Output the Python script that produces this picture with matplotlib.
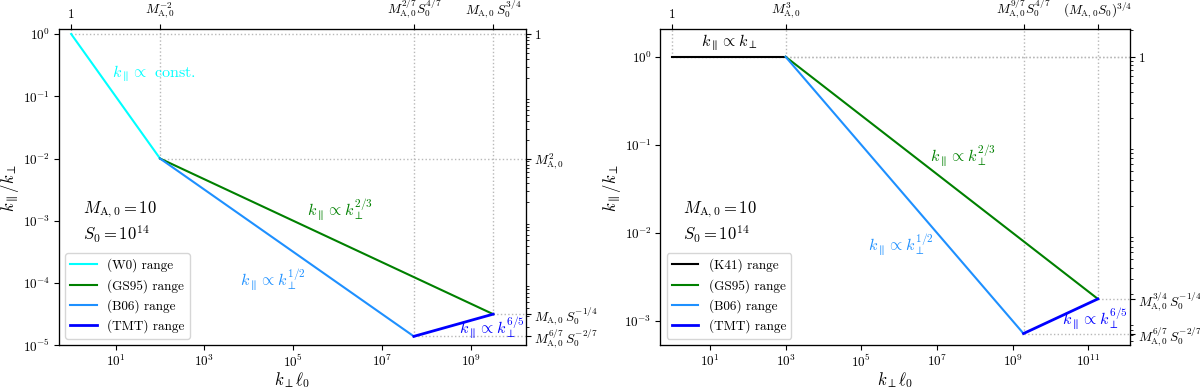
import matplotlib
matplotlib.use('Agg')
import matplotlib.pyplot as plt

plt.rcParams['mathtext.fontset'] = 'cm'
plt.rcParams['font.family'] = 'serif'
plt.rcParams['font.serif'] = ['cmr10']
plt.rcParams['axes.formatter.use_mathtext'] = True
plt.rcParams['axes.unicode_minus'] = False
plt.rcParams['xtick.major.pad'] = 2.5
plt.rcParams['ytick.major.pad'] = 2.5

# ---- left panel: M_A0 = 10, S0 = 1e14 (weak turbulence start) ----
left_w0_x = [1.0, 1.0e2]
left_w0_y = [1.0, 1.0e-2]
left_gs_x = [1.0e2, 3.16e9]
left_gs_y = [1.0e-2, 3.16e-5]
left_b06_x = [1.0e2, 5.18e7]
left_b06_y = [1.0e-2, 1.39e-5]
left_tmt_x = [5.18e7, 3.16e9]
left_tmt_y = [1.39e-5, 3.16e-5]
left_top_ticks = [1.0, 1.0e2, 5.18e7, 3.16e9]
left_top_labels = [r'$1$', r'$M_{\rm A,0}^{-2}$', r'$M_{\rm A,0}^{2/7}S_0^{4/7}$',
                   r'$M_{\rm A,0}\,S_0^{3/4}$']
left_right_ticks = [1.0, 1.0e-2, 3.16e-5, 1.39e-5]
left_right_labels = [r'$1$', r'$M_{\rm A,0}^{2}$', r'$M_{\rm A,0}\,S_0^{-1/4}$',
                     r'$M_{\rm A,0}^{6/7}\,S_0^{-2/7}$']
left_corners = [(1.0, 1.0), (1.0e2, 1.0e-2), (5.18e7, 1.39e-5), (3.16e9, 3.16e-5)]

# ---- right panel: strong turbulence start ----
right_k41_x = [1.0, 1.0e3]
right_k41_y = [1.0, 1.0]
right_gs_x = [1.0e3, 1.78e11]
right_gs_y = [1.0, 1.78e-3]
right_b06_x = [1.0e3, 1.93e9]
right_b06_y = [1.0, 7.20e-4]
right_tmt_x = [1.93e9, 1.78e11]
right_tmt_y = [7.20e-4, 1.78e-3]
right_top_ticks = [1.0, 1.0e3, 1.93e9, 1.78e11]
right_top_labels = [r'$1$', r'$M_{\rm A,0}^{3}$', r'$M_{\rm A,0}^{9/7}S_0^{4/7}$',
                    r'$(M_{\rm A,0}S_0)^{3/4}$']
right_right_ticks = [1.0, 1.78e-3, 7.20e-4]
right_right_labels = [r'$1$', r'$M_{\rm A,0}^{3/4}\,S_0^{-1/4}$',
                      r'$M_{\rm A,0}^{6/7}\,S_0^{-2/7}$']
right_corners = [(1.0, 1.0), (1.0e3, 1.0), (1.93e9, 7.20e-4), (1.78e11, 1.78e-3)]

fig = plt.figure(figsize=(12, 3.91), dpi=100)
axL = fig.add_axes([0.0488, 0.117, 0.3896, 0.808])
axR = fig.add_axes([0.55, 0.117, 0.3917, 0.808])

tick_fs = 9.5
lbl_fs = 11.5


def setup(ax, xlim, ylim, corners, top_ticks, top_labels, r_ticks, r_labels):
    ax.set_xscale('log')
    ax.set_yscale('log')
    ax.set_xlim(*xlim)
    ax.set_ylim(*ylim)
    # dotted guides from each break point up and to the right
    for cx, cy in corners:
        ax.plot([cx, cx], [cy, ylim[1]], ':', color='0.72', lw=1, zorder=1)
        ax.plot([cx, xlim[1]], [cy, cy], ':', color='0.72', lw=1, zorder=1)
    ax.set_xlabel(r'$k_\perp \ell_0$', fontsize=12, labelpad=0)
    ax.set_ylabel(r'$k_\parallel / k_\perp$', fontsize=12, labelpad=1)
    ax.tick_params(labelsize=tick_fs)

    top = ax.twiny()
    top.set_xscale('log')
    top.set_xlim(*xlim)
    top.set_xticks(top_ticks)
    top.set_xticklabels(top_labels, fontsize=tick_fs)
    top.minorticks_off()

    rgt = ax.twinx()
    rgt.set_yscale('log')
    rgt.set_ylim(*ylim)
    rgt.set_yticks(r_ticks)
    rgt.set_yticklabels(r_labels, fontsize=tick_fs)


# left panel
setup(axL, (0.52, 1.74e10), (1.0e-5, 1.19), left_corners,
      left_top_ticks, left_top_labels, left_right_ticks, left_right_labels)
axL.plot(left_w0_x, left_w0_y, color='cyan', lw=1.5, label='(W0) range')
axL.plot(left_gs_x, left_gs_y, color='green', lw=1.5, label='(GS95) range')
axL.plot(left_b06_x, left_b06_y, color='dodgerblue', lw=1.5, label='(B06) range')
axL.plot(left_tmt_x, left_tmt_y, color='blue', lw=2, label='(TMT) range')
axL.text(8.3, 0.24, r'$k_\parallel \propto$ const.', color='cyan', fontsize=lbl_fs,
         va='center', ha='left')
axL.text(2.0e5, 1.5e-3, r'$k_\parallel \propto k_\perp^{2/3}$', color='green',
         fontsize=lbl_fs, va='center', ha='left')
axL.text(6.3e3, 1.15e-4, r'$k_\parallel \propto k_\perp^{1/2}$', color='dodgerblue',
         fontsize=lbl_fs, va='center', ha='left')
axL.text(5.4e8, 1.95e-5, r'$k_\parallel \propto k_\perp^{6/5}$', color='blue',
         fontsize=lbl_fs, va='center', ha='left')
axL.text(0.052, 0.428, r'$M_{\rm A,0} = 10$', transform=axL.transAxes,
         fontsize=12, va='center')
axL.text(0.052, 0.351, r'$S_0 = 10^{14}$', transform=axL.transAxes,
         fontsize=12, va='center')
axL.legend(loc='lower left', fontsize=9.5)

# right panel
setup(axR, (0.48, 1.26e12), (5.3e-4, 2.05), right_corners,
      right_top_ticks, right_top_labels, right_right_ticks, right_right_labels)
axR.plot(right_k41_x, right_k41_y, color='black', lw=1.5, label='(K41) range')
axR.plot(right_gs_x, right_gs_y, color='green', lw=1.5, label='(GS95) range')
axR.plot(right_b06_x, right_b06_y, color='dodgerblue', lw=1.5, label='(B06) range')
axR.plot(right_tmt_x, right_tmt_y, color='blue', lw=2, label='(TMT) range')
axR.text(31.6, 1.12, r'$k_\parallel \propto k_\perp$', color='black',
         fontsize=lbl_fs, va='bottom', ha='center')
axR.text(6.6e6, 7.6e-2, r'$k_\parallel \propto k_\perp^{2/3}$', color='green',
         fontsize=lbl_fs, va='center', ha='left')
axR.text(1.5e5, 7.4e-3, r'$k_\parallel \propto k_\perp^{1/2}$', color='dodgerblue',
         fontsize=lbl_fs, va='center', ha='left')
axR.text(2.0e10, 1.07e-3, r'$k_\parallel \propto k_\perp^{6/5}$', color='blue',
         fontsize=lbl_fs, va='center', ha='left')
axR.text(0.048, 0.428, r'$M_{\rm A,0} = 10$', transform=axR.transAxes,
         fontsize=12, va='center')
axR.text(0.048, 0.351, r'$S_0 = 10^{14}$', transform=axR.transAxes,
         fontsize=12, va='center')
axR.legend(loc='lower left', fontsize=9.5)

fig.savefig('out.png', dpi=100)
